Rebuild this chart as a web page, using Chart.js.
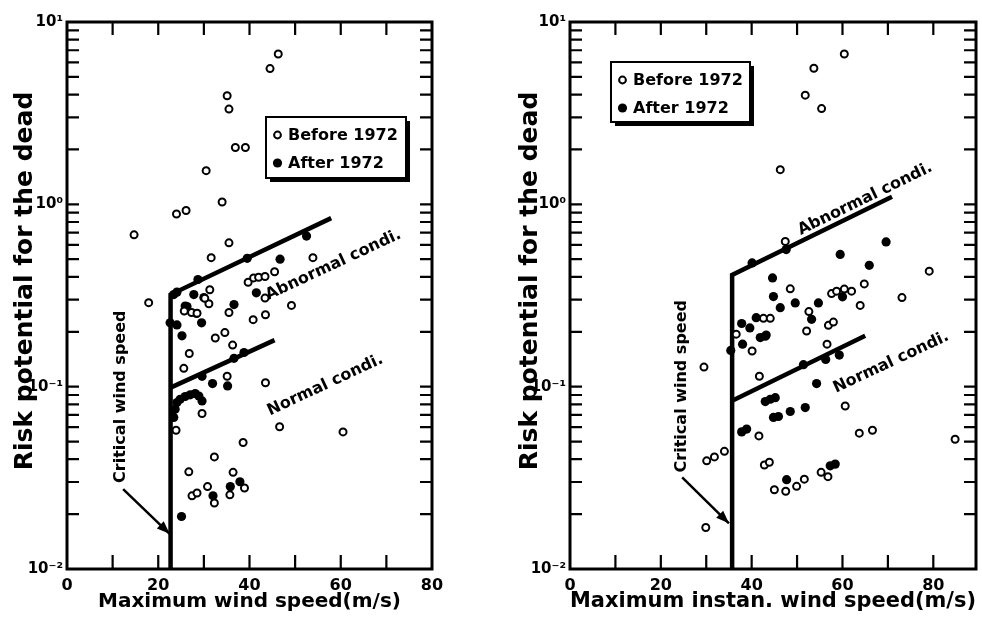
<!DOCTYPE html>
<html><head><meta charset="utf-8">
<script src="https://cdn.jsdelivr.net/npm/chart.js@4/dist/chart.umd.min.js"></script>
<style>
html,body{margin:0;padding:0;background:#fff;}
#wrap{position:relative;width:982px;height:622px;overflow:hidden;background:#fff;}
.panel{position:absolute;top:0;width:491px;height:622px;}
</style></head><body>
<div id="wrap">
<div class="panel" style="left:0"><canvas id="c1" width="491" height="622"></canvas></div>
<div class="panel" style="left:491px"><canvas id="c2" width="491" height="622"></canvas></div>
</div>
<script>
// ---------- data ----------
const seriesNames = ['Before 1972', 'After 1972'];
const xTickLabels = [0, 20, 40, 60, 80];
const xTickMarks = [10, 20, 30, 40, 50, 60, 70, 80];
const yTickValues = [0.01, 0.1, 1, 10];
const yTickLabels = ['10\u207B\u00B2', '10\u207B\u00B9', '10\u2070', '10\u00B9'];
const yTitle = 'Risk potential for the dead';
const xTitleLeft = 'Maximum wind speed(m/s)';
const xTitleRight = 'Maximum instan. wind speed(m/s)';
const lineNames = ['Abnormal condi.', 'Normal condi.', 'Critical wind speed'];

// Left panel: maximum wind speed
const leftBeforeX = [46.3,44.5,35.1,35.5,36.9,39.1,30.5,34.0,24.0,26.1,14.7,35.5,31.6,53.9,39.7,40.9,42.0,43.4,45.5,43.4,49.2,43.5,40.8,35.5,31.3,31.1,27.3,17.9,25.7,30.2,28.5,32.5,34.6,36.3,26.8,25.6,35.1,43.5,29.6,23.9,46.6,60.5,38.6,32.3,26.7,36.4,30.8,38.9,27.4,28.5,32.3,35.7];
const leftBeforeY = [6.68,5.55,3.94,3.33,2.05,2.05,1.53,1.03,0.885,0.925,0.68,0.615,0.51,0.51,0.374,0.395,0.398,0.402,0.427,0.306,0.279,0.248,0.233,0.255,0.34,0.285,0.255,0.289,0.26,0.305,0.253,0.185,0.198,0.169,0.152,0.126,0.114,0.105,0.0713,0.0577,0.0603,0.0565,0.0494,0.0412,0.0341,0.0339,0.0283,0.0278,0.0252,0.0261,0.023,0.0255];
const leftAfterX = [46.7,52.5,39.5,41.5,36.6,28.7,27.8,30.0,25.9,29.5,22.6,24.1,23.4,24.1,25.2,28.4,26.3,36.6,38.8,29.6,31.9,35.2,23.4,23.7,24.1,24.8,25.9,27.0,28.1,28.9,29.6,32.0,35.8,37.9,25.1];
const leftAfterY = [0.50,0.67,0.506,0.327,0.282,0.387,0.32,0.308,0.277,0.224,0.224,0.218,0.32,0.33,0.19,0.252,0.275,0.143,0.154,0.114,0.104,0.101,0.0678,0.0751,0.0818,0.0853,0.0883,0.0902,0.0917,0.0889,0.0835,0.0252,0.0283,0.0301,0.0194];
const leftAbnormalX = [22.7, 22.7, 57.9];
const leftAbnormalY = [0.01, 0.32, 0.84];
const leftNormalX = [22.7, 45.5];
const leftNormalY = [0.0988, 0.18];
const leftArrowX = [12.3, 22.5];
const leftArrowY = [0.0274, 0.0156];

// Right panel: maximum instantaneous wind speed
const rightBeforeX = [60.4,53.7,51.8,55.4,46.3,47.4,79.1,48.5,64.8,57.6,58.7,60.4,62.0,73.1,63.9,52.6,56.9,58.0,52.1,56.6,42.6,44.1,36.6,40.1,29.5,41.7,60.6,41.6,63.7,66.6,84.8,30.1,31.8,34.0,42.8,43.9,45.0,47.5,49.9,51.6,55.3,56.8,29.9];
const rightBeforeY = [6.68,5.58,3.97,3.35,1.55,0.625,0.43,0.344,0.366,0.324,0.334,0.343,0.334,0.308,0.279,0.258,0.217,0.226,0.202,0.171,0.237,0.237,0.194,0.157,0.128,0.114,0.0783,0.0537,0.0556,0.0577,0.0515,0.0392,0.0412,0.0442,0.0372,0.0385,0.0272,0.0267,0.0284,0.0311,0.0339,0.0321,0.0169];
const rightAfterX = [40.1,47.6,59.5,69.6,65.9,44.6,44.8,46.3,49.6,54.7,60.0,53.2,37.8,41.0,39.6,41.9,43.2,43.0,38.0,35.4,51.4,56.3,59.3,54.3,43.0,44.1,45.2,44.8,45.9,48.5,51.8,37.8,38.9,47.7,57.3,58.4];
const rightAfterY = [0.477,0.565,0.531,0.622,0.463,0.395,0.312,0.271,0.288,0.288,0.311,0.234,0.222,0.239,0.21,0.186,0.192,0.189,0.171,0.158,0.132,0.141,0.149,0.104,0.0828,0.0853,0.087,0.0678,0.0686,0.0731,0.0768,0.0565,0.0585,0.0309,0.0368,0.0376];
const rightAbnormalX = [35.7, 35.7, 70.9];
const rightAbnormalY = [0.01, 0.41, 1.10];
const rightNormalX = [35.7, 65.0];
const rightNormalY = [0.0836, 0.19];
const rightArrowX = [24.7, 35.0];
const rightArrowY = [0.0318, 0.0178];

// ---------- rendering ----------
const FONT = '"DejaVu Sans", Verdana, sans-serif';
Chart.defaults.font.family = FONT;
Chart.defaults.font.weight = 'bold';
Chart.defaults.color = '#000';

function pts(xs, ys) { return xs.map((x, i) => ({x: x, y: ys[i]})); }

const decor = {
  id: 'decor',
  afterDatasetsDraw(chart, args, o) {
    const ctx = chart.ctx, a = chart.chartArea, xs = chart.scales.x, ys = chart.scales.y;
    ctx.save();
    ctx.strokeStyle = '#000';
    ctx.fillStyle = '#000';
    // inward tick marks
    ctx.lineWidth = 2.2;
    ctx.beginPath();
    xTickMarks.forEach(v => {
      if (v <= xs.min || v >= xs.max) return;
      const px = xs.getPixelForValue(v);
      ctx.moveTo(px, a.bottom); ctx.lineTo(px, a.bottom - 14);
      ctx.moveTo(px, a.top); ctx.lineTo(px, a.top + 13);
    });
    for (let e = -2; e <= 0; e++) {
      for (let m = 1; m <= 9; m++) {
        const v = m * Math.pow(10, e);
        if (v <= 0.01) continue;
        const py = ys.getPixelForValue(v);
        ctx.moveTo(a.left, py); ctx.lineTo(a.left + 12, py);
        ctx.moveTo(a.right, py); ctx.lineTo(a.right - 12, py);
      }
    }
    ctx.stroke();
    // frame
    ctx.lineWidth = 3;
    ctx.strokeRect(a.left, a.top, a.right - a.left, a.bottom - a.top);
    // arrow head on the arrow dataset
    const am = chart.getDatasetMeta(o.arrowIndex).data;
    if (am.length >= 2) {
      const p0 = am[am.length - 2], p1 = am[am.length - 1];
      const ang = Math.atan2(p1.y - p0.y, p1.x - p0.x);
      const L = 13, W = 5;
      ctx.beginPath();
      ctx.moveTo(p1.x, p1.y);
      ctx.lineTo(p1.x - L * Math.cos(ang) + W * Math.sin(ang), p1.y - L * Math.sin(ang) - W * Math.cos(ang));
      ctx.lineTo(p1.x - L * Math.cos(ang) - W * Math.sin(ang), p1.y - L * Math.sin(ang) + W * Math.cos(ang));
      ctx.closePath();
      ctx.fill();
    }
    // annotation texts
    ctx.font = 'bold 16px ' + FONT;
    ctx.textAlign = 'center';
    ctx.textBaseline = 'middle';
    o.texts.forEach(t => {
      ctx.save();
      ctx.translate(xs.getPixelForValue(t.x), ys.getPixelForValue(t.y));
      ctx.rotate(t.angle * Math.PI / 180);
      ctx.fillText(t.text, 0, 0);
      ctx.restore();
    });
    // y axis title (placed slightly above the axis centre, as in the original)
    ctx.save();
    ctx.font = 'bold 25px ' + FONT;
    ctx.translate(o.yTitleX, o.yTitleY);
    ctx.rotate(-Math.PI / 2);
    ctx.fillText(yTitle, 0, 0);
    ctx.restore();
    // legend box with shadow
    const lg = o.legend;
    const bx = a.left + lg.dx, by = a.top + lg.dy;
    ctx.fillRect(bx + 4, by + 4, lg.w, lg.h);
    ctx.fillStyle = '#fff';
    ctx.fillRect(bx, by, lg.w, lg.h);
    ctx.lineWidth = 2;
    ctx.strokeRect(bx, by, lg.w, lg.h);
    ctx.textAlign = 'left';
    ctx.font = 'bold 16px ' + FONT;
    const rows = [by + 18, by + 46];
    [0, 1].forEach(i => {
      const ds = chart.data.datasets[i];
      ctx.beginPath();
      if (i === 0) {
        ctx.arc(bx + 11.5, rows[i], 3.4, 0, Math.PI * 2);
        ctx.fillStyle = '#fff'; ctx.fill();
        ctx.lineWidth = 2; ctx.stroke();
      } else {
        ctx.arc(bx + 11.5, rows[i], 4.6, 0, Math.PI * 2);
        ctx.fillStyle = '#000'; ctx.fill();
      }
      ctx.fillStyle = '#000';
      ctx.fillText(ds.label, bx + 22, rows[i] + 1);
    });
    ctx.restore();
  }
};

function buildPanel(id, p) {
  const lineStyle = {showLine: true, borderColor: '#000', pointRadius: 0, borderJoinStyle: 'miter', borderCapStyle: 'butt', fill: false, tension: 0};
  const datasets = [
    {label: seriesNames[0], data: pts(p.bx, p.by), pointRadius: 3.5, pointBorderWidth: 2, pointBackgroundColor: '#fff', pointBorderColor: '#000', showLine: false},
    {label: seriesNames[1], data: pts(p.ax, p.ay), pointRadius: 4.6, pointBorderWidth: 0, pointBackgroundColor: '#000', pointBorderColor: '#000', showLine: false},
    Object.assign({label: lineNames[0], data: pts(p.abx, p.aby), borderWidth: 4.5}, lineStyle),
    Object.assign({label: lineNames[1], data: pts(p.nx, p.ny), borderWidth: 4.5}, lineStyle),
    Object.assign({label: lineNames[2], data: pts(p.arx, p.ary), borderWidth: 2.5}, lineStyle)
  ];
  return new Chart(document.getElementById(id), {
    type: 'scatter',
    data: {datasets: datasets},
    options: {
      responsive: false, animation: false, events: [],
      layout: {padding: p.pad},
      plugins: {
        legend: {display: false}, tooltip: {enabled: false},
        decor: {arrowIndex: 4, texts: p.texts, legend: p.legend, yTitleX: p.yTitleX, yTitleY: 281}
      },
      scales: {
        x: {
          type: 'linear', min: 0, max: p.xMax,
          grid: {display: false, drawTicks: false}, border: {display: false},
          afterBuildTicks: s => { s.ticks = xTickLabels.map(v => ({value: v})); },
          afterFit: s => { s.height = 53; },
          ticks: {font: {size: 16, weight: 'bold'}, padding: 7, autoSkip: false, maxRotation: 0, minRotation: 0, color: '#000'},
          title: {display: true, text: p.xTitle, font: {size: p.xTitleSize, weight: 'bold'}, padding: {top: 0, bottom: 8}, color: '#000'}
        },
        y: {
          type: 'logarithmic', min: 0.01, max: 10,
          grid: {display: false, drawTicks: false}, border: {display: false},
          afterBuildTicks: s => { s.ticks = yTickValues.map(v => ({value: v})); },
          afterFit: s => { s.width = p.yWidth; },
          ticks: {font: {size: 15, weight: 'bold'}, padding: 4, autoSkip: false, color: '#000',
                  callback: v => { const i = yTickValues.indexOf(v); return i >= 0 ? yTickLabels[i] : ''; }},
          title: {display: false, text: yTitle}
        }
      }
    },
    plugins: [decor]
  });
}

buildPanel('c1', {
  bx: leftBeforeX, by: leftBeforeY, ax: leftAfterX, ay: leftAfterY,
  abx: leftAbnormalX, aby: leftAbnormalY, nx: leftNormalX, ny: leftNormalY, arx: leftArrowX, ary: leftArrowY,
  xMax: 80, xTitle: xTitleLeft, xTitleSize: 20, yWidth: 67, yTitleX: 25,
  pad: {left: 0, top: 22, right: 59, bottom: 0},
  legend: {dx: 199, dy: 95, w: 140, h: 61},
  texts: [
    {text: lineNames[2], x: 11.9, y: 0.0881, angle: -90},
    {text: lineNames[0], x: 58.4, y: 0.465, angle: -25},
    {text: lineNames[1], x: 56.6, y: 0.102, angle: -25}
  ]
});
buildPanel('c2', {
  bx: rightBeforeX, by: rightBeforeY, ax: rightAfterX, ay: rightAfterY,
  abx: rightAbnormalX, aby: rightAbnormalY, nx: rightNormalX, ny: rightNormalY, arx: rightArrowX, ary: rightArrowY,
  xMax: 89.4, xTitle: xTitleRight, xTitleSize: 21, yWidth: 79, yTitleX: 39,
  pad: {left: 0, top: 22, right: 6, bottom: 0},
  legend: {dx: 41, dy: 40, w: 139, h: 60},
  texts: [
    {text: lineNames[2], x: 24.7, y: 0.1006, angle: -90},
    {text: lineNames[0], x: 65.0, y: 1.07, angle: -26},
    {text: lineNames[1], x: 70.7, y: 0.136, angle: -25}
  ]
});
</script>
</body></html>
